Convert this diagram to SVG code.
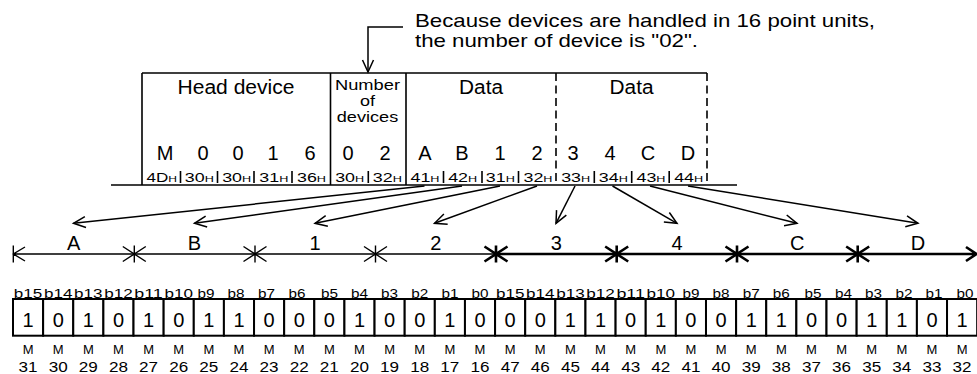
<svg xmlns="http://www.w3.org/2000/svg" width="977" height="374" viewBox="0 0 977 374">
<style>
.t{font-family:"Liberation Sans",Arial,sans-serif;fill:#000}
.ln{stroke:#000;fill:none;stroke-width:1.6}
.thin{stroke:#000;fill:none;stroke-width:1.4}
.thick{stroke:#000;fill:none;stroke-width:2.6}
.dash{stroke:#000;fill:none;stroke-width:1.6;stroke-dasharray:8 4.5}
.big{font-size:20px;text-anchor:middle}
.hx{font-size:12px;text-anchor:middle}
.bl{font-size:12px;text-anchor:middle}
.ml{font-size:13px;text-anchor:middle}
.mn{font-size:14px;text-anchor:middle}
.cell{fill:#fff;stroke:#000;stroke-width:2}
.arr{stroke:#000;fill:none;stroke-width:1.5;marker-end:url(#ah)}
</style>
<defs>
<marker id="ah" markerUnits="userSpaceOnUse" markerWidth="16" markerHeight="14" refX="13" refY="6" orient="auto" viewBox="0 0 16 12">
<path d="M1,0.5 L13,6 L1,11.5" fill="none" stroke="#000" stroke-width="1.5"/>
</marker>
</defs>
<rect width="977" height="374" fill="#fff"/>

<g id="note">
<text class="t" x="415" y="26.5" font-size="19" textLength="460" lengthAdjust="spacingAndGlyphs">Because devices are handled in 16 point units,</text>
<text class="t" x="415" y="46.5" font-size="19" textLength="283" lengthAdjust="spacingAndGlyphs">the number of device is "02".</text>
</g>

<g id="frame">
<path class="ln" d="M142,73 H707 M142,73 V185 M330.5,73 V185 M406,73 V185 M111,185 H737"/>
<path class="dash" d="M556,73 V185 M707,73 V185"/>
<path class="ln" stroke-width="1.3" d="M180.5,171 V183 M217.5,171 V183 M254,171 V183 M292,171 V183 M368.3,171 V183 M443.5,171 V183 M482,171 V183 M518.5,171 V183 M594.3,171 V183 M631.7,171 V183 M669.2,171 V183"/>
</g>

<g id="head-device">
<text class="t big" x="236" y="94" textLength="117" lengthAdjust="spacingAndGlyphs">Head device</text>
<text class="t big" x="165" y="159.5">M</text>
<text class="t big" x="203" y="159.5">0</text>
<text class="t big" x="238" y="159.5">0</text>
<text class="t big" x="273" y="159.5">1</text>
<text class="t big" x="310" y="159.5">6</text>
<text class="t hx" x="161.8" y="181.5" textLength="30.5" lengthAdjust="spacingAndGlyphs">4D<tspan font-size="8.5">H</tspan></text>
<text class="t hx" x="199.3" y="181.5" textLength="29" lengthAdjust="spacingAndGlyphs">30<tspan font-size="8.5">H</tspan></text>
<text class="t hx" x="236.7" y="181.5" textLength="29" lengthAdjust="spacingAndGlyphs">30<tspan font-size="8.5">H</tspan></text>
<text class="t hx" x="273.8" y="181.5" textLength="29" lengthAdjust="spacingAndGlyphs">31<tspan font-size="8.5">H</tspan></text>
<text class="t hx" x="311.5" y="181.5" textLength="29" lengthAdjust="spacingAndGlyphs">36<tspan font-size="8.5">H</tspan></text>
</g>

<g id="num-devices">
<text class="t" x="367.5" y="90" font-size="15" text-anchor="middle" textLength="65" lengthAdjust="spacingAndGlyphs">Number</text>
<text class="t" x="367.5" y="105.5" font-size="15" text-anchor="middle" textLength="15" lengthAdjust="spacingAndGlyphs">of</text>
<text class="t" x="367.5" y="121.5" font-size="15" text-anchor="middle" textLength="61.5" lengthAdjust="spacingAndGlyphs">devices</text>
<text class="t big" x="348" y="159.5">0</text>
<text class="t big" x="385" y="159.5">2</text>
<text class="t hx" x="349.7" y="181.5" textLength="29" lengthAdjust="spacingAndGlyphs">30<tspan font-size="8.5">H</tspan></text>
<text class="t hx" x="387.3" y="181.5" textLength="29" lengthAdjust="spacingAndGlyphs">32<tspan font-size="8.5">H</tspan></text>
</g>

<g id="data1">
<text class="t big" x="481" y="94" textLength="44" lengthAdjust="spacingAndGlyphs">Data</text>
<text class="t big" x="425" y="159.5">A</text>
<text class="t big" x="462" y="159.5">B</text>
<text class="t big" x="500" y="159.5">1</text>
<text class="t big" x="537" y="159.5">2</text>
<text class="t hx" x="425" y="181.5" textLength="29" lengthAdjust="spacingAndGlyphs">41<tspan font-size="8.5">H</tspan></text>
<text class="t hx" x="462.7" y="181.5" textLength="29" lengthAdjust="spacingAndGlyphs">42<tspan font-size="8.5">H</tspan></text>
<text class="t hx" x="500.3" y="181.5" textLength="29" lengthAdjust="spacingAndGlyphs">31<tspan font-size="8.5">H</tspan></text>
<text class="t hx" x="538" y="181.5" textLength="29" lengthAdjust="spacingAndGlyphs">32<tspan font-size="8.5">H</tspan></text>
</g>

<g id="data2">
<text class="t big" x="631.5" y="94" textLength="44" lengthAdjust="spacingAndGlyphs">Data</text>
<text class="t big" x="573" y="159.5">3</text>
<text class="t big" x="610" y="159.5">4</text>
<text class="t big" x="648" y="159.5">C</text>
<text class="t big" x="688" y="159.5">D</text>
<text class="t hx" x="575.7" y="181.5" textLength="29" lengthAdjust="spacingAndGlyphs">33<tspan font-size="8.5">H</tspan></text>
<text class="t hx" x="613.3" y="181.5" textLength="29" lengthAdjust="spacingAndGlyphs">34<tspan font-size="8.5">H</tspan></text>
<text class="t hx" x="651" y="181.5" textLength="29" lengthAdjust="spacingAndGlyphs">43<tspan font-size="8.5">H</tspan></text>
<text class="t hx" x="688.7" y="181.5" textLength="29" lengthAdjust="spacingAndGlyphs">44<tspan font-size="8.5">H</tspan></text>
</g>

<g id="connectors">
<path class="arr" d="M403,27 H368 V72"/>
<path class="arr" d="M424.5,186 L73.5,223.3"/>
<path class="arr" d="M462,186 L194.5,223.3"/>
<path class="arr" d="M500,186 L315,223.3"/>
<path class="arr" d="M537,186 L434.5,223.3"/>
<path class="arr" d="M575,186 L556,223.3"/>
<path class="arr" d="M612.5,186 L677,223.3"/>
<path class="arr" d="M650,186 L797,223.3"/>
<path class="arr" d="M688,186 L918,223.3"/>
</g>

<g id="ranges">
<path class="thin" d="M13.3,254 H496 M13.3,245.5 V262.5 M25,247 L13.3,254 L25,261"/>
<path class="thin" d="M122.8,246.5 L145.8,261.5 M122.8,261.5 L145.8,246.5 M134.3,245.5 V262.5"/>
<path class="thin" d="M243.5,246.5 L266.5,261.5 M243.5,261.5 L266.5,246.5 M255,245.5 V262.5"/>
<path class="thin" d="M364,246.5 L387,261.5 M364,261.5 L387,246.5 M375.5,245.5 V262.5"/>
<path class="thick" d="M496,254 H977 M966,247 L976.5,254 L966,261"/>
<path class="thick" stroke-width="2" d="M484.5,246.5 L507.5,261.5 M484.5,261.5 L507.5,246.5 M496,245.5 V262.5"/>
<path class="thick" stroke-width="2.2" d="M605.2,246.5 L628.2,261.5 M605.2,261.5 L628.2,246.5 M616.7,245.5 V262.5"/>
<path class="thick" stroke-width="2.2" d="M725.5,246.5 L748.5,261.5 M725.5,261.5 L748.5,246.5 M737,245.5 V262.5"/>
<path class="thick" stroke-width="2.2" d="M846.2,246.5 L869.2,261.5 M846.2,261.5 L869.2,246.5 M857.7,245.5 V262.5"/>
<text class="t big" x="73.7" y="250">A</text>
<text class="t big" x="194.3" y="250">B</text>
<text class="t big" x="315" y="250">1</text>
<text class="t big" x="435.7" y="250">2</text>
<text class="t big" x="556.3" y="250">3</text>
<text class="t big" x="677" y="250">4</text>
<text class="t big" x="797.3" y="250">C</text>
<text class="t big" x="918" y="250">D</text>
</g>

<g id="word-low">
<rect class="cell" x="13" y="299" width="30.13" height="36.7"/>
<rect class="cell" x="43.13" y="299" width="30.13" height="36.7"/>
<rect class="cell" x="73.26" y="299" width="30.13" height="36.7"/>
<rect class="cell" x="103.39" y="299" width="30.13" height="36.7"/>
<rect class="cell" x="133.52" y="299" width="30.13" height="36.7"/>
<rect class="cell" x="163.65" y="299" width="30.13" height="36.7"/>
<rect class="cell" x="193.78" y="299" width="30.13" height="36.7"/>
<rect class="cell" x="223.91" y="299" width="30.13" height="36.7"/>
<rect class="cell" x="254.04" y="299" width="30.13" height="36.7"/>
<rect class="cell" x="284.17" y="299" width="30.13" height="36.7"/>
<rect class="cell" x="314.3" y="299" width="30.13" height="36.7"/>
<rect class="cell" x="344.43" y="299" width="30.13" height="36.7"/>
<rect class="cell" x="374.56" y="299" width="30.13" height="36.7"/>
<rect class="cell" x="404.69" y="299" width="30.13" height="36.7"/>
<rect class="cell" x="434.82" y="299" width="30.13" height="36.7"/>
<rect class="cell" x="464.95" y="299" width="30.13" height="36.7"/>
<text class="t bl" x="28.07" y="298" textLength="28.5" lengthAdjust="spacingAndGlyphs">b15</text>
<text class="t bl" x="58.2" y="298" textLength="28.5" lengthAdjust="spacingAndGlyphs">b14</text>
<text class="t bl" x="88.33" y="298" textLength="28.5" lengthAdjust="spacingAndGlyphs">b13</text>
<text class="t bl" x="118.46" y="298" textLength="28.5" lengthAdjust="spacingAndGlyphs">b12</text>
<text class="t bl" x="148.59" y="298" textLength="28.5" lengthAdjust="spacingAndGlyphs">b11</text>
<text class="t bl" x="178.72" y="298" textLength="28.5" lengthAdjust="spacingAndGlyphs">b10</text>
<text class="t bl" x="206" y="298" textLength="17" lengthAdjust="spacingAndGlyphs">b9</text>
<text class="t bl" x="236" y="298" textLength="17" lengthAdjust="spacingAndGlyphs">b8</text>
<text class="t bl" x="266.5" y="298" textLength="17" lengthAdjust="spacingAndGlyphs">b7</text>
<text class="t bl" x="297" y="298" textLength="17" lengthAdjust="spacingAndGlyphs">b6</text>
<text class="t bl" x="329.4" y="298" textLength="17" lengthAdjust="spacingAndGlyphs">b5</text>
<text class="t bl" x="359.5" y="298" textLength="17" lengthAdjust="spacingAndGlyphs">b4</text>
<text class="t bl" x="389.6" y="298" textLength="17" lengthAdjust="spacingAndGlyphs">b3</text>
<text class="t bl" x="419.8" y="298" textLength="17" lengthAdjust="spacingAndGlyphs">b2</text>
<text class="t bl" x="449.9" y="298" textLength="17" lengthAdjust="spacingAndGlyphs">b1</text>
<text class="t bl" x="480" y="298" textLength="17" lengthAdjust="spacingAndGlyphs">b0</text>
<text class="t big" x="28.07" y="326.5">1</text>
<text class="t big" x="58.2" y="326.5">0</text>
<text class="t big" x="88.33" y="326.5">1</text>
<text class="t big" x="118.46" y="326.5">0</text>
<text class="t big" x="148.59" y="326.5">1</text>
<text class="t big" x="178.72" y="326.5">0</text>
<text class="t big" x="208.85" y="326.5">1</text>
<text class="t big" x="238.98" y="326.5">1</text>
<text class="t big" x="269.11" y="326.5">0</text>
<text class="t big" x="299.24" y="326.5">0</text>
<text class="t big" x="329.37" y="326.5">0</text>
<text class="t big" x="359.5" y="326.5">1</text>
<text class="t big" x="389.63" y="326.5">0</text>
<text class="t big" x="419.76" y="326.5">0</text>
<text class="t big" x="449.89" y="326.5">1</text>
<text class="t big" x="480.02" y="326.5">0</text>
<text class="t ml" x="28.07" y="354">M</text>
<text class="t ml" x="58.2" y="354">M</text>
<text class="t ml" x="88.33" y="354">M</text>
<text class="t ml" x="118.46" y="354">M</text>
<text class="t ml" x="148.59" y="354">M</text>
<text class="t ml" x="178.72" y="354">M</text>
<text class="t ml" x="208.85" y="354">M</text>
<text class="t ml" x="238.98" y="354">M</text>
<text class="t ml" x="269.11" y="354">M</text>
<text class="t ml" x="299.24" y="354">M</text>
<text class="t ml" x="329.37" y="354">M</text>
<text class="t ml" x="359.5" y="354">M</text>
<text class="t ml" x="389.63" y="354">M</text>
<text class="t ml" x="419.76" y="354">M</text>
<text class="t ml" x="449.89" y="354">M</text>
<text class="t ml" x="480.02" y="354">M</text>
<text class="t mn" x="28.07" y="371.5" textLength="19" lengthAdjust="spacingAndGlyphs">31</text>
<text class="t mn" x="58.2" y="371.5" textLength="19" lengthAdjust="spacingAndGlyphs">30</text>
<text class="t mn" x="88.33" y="371.5" textLength="19" lengthAdjust="spacingAndGlyphs">29</text>
<text class="t mn" x="118.46" y="371.5" textLength="19" lengthAdjust="spacingAndGlyphs">28</text>
<text class="t mn" x="148.59" y="371.5" textLength="19" lengthAdjust="spacingAndGlyphs">27</text>
<text class="t mn" x="178.72" y="371.5" textLength="19" lengthAdjust="spacingAndGlyphs">26</text>
<text class="t mn" x="208.85" y="371.5" textLength="19" lengthAdjust="spacingAndGlyphs">25</text>
<text class="t mn" x="238.98" y="371.5" textLength="19" lengthAdjust="spacingAndGlyphs">24</text>
<text class="t mn" x="269.11" y="371.5" textLength="19" lengthAdjust="spacingAndGlyphs">23</text>
<text class="t mn" x="299.24" y="371.5" textLength="19" lengthAdjust="spacingAndGlyphs">22</text>
<text class="t mn" x="329.37" y="371.5" textLength="19" lengthAdjust="spacingAndGlyphs">21</text>
<text class="t mn" x="359.5" y="371.5" textLength="19" lengthAdjust="spacingAndGlyphs">20</text>
<text class="t mn" x="389.63" y="371.5" textLength="19" lengthAdjust="spacingAndGlyphs">19</text>
<text class="t mn" x="419.76" y="371.5" textLength="19" lengthAdjust="spacingAndGlyphs">18</text>
<text class="t mn" x="449.89" y="371.5" textLength="19" lengthAdjust="spacingAndGlyphs">17</text>
<text class="t mn" x="480.02" y="371.5" textLength="19" lengthAdjust="spacingAndGlyphs">16</text>
</g>

<g id="word-high">
<rect class="cell" x="495.08" y="299" width="30.13" height="36.7"/>
<rect class="cell" x="525.21" y="299" width="30.13" height="36.7"/>
<rect class="cell" x="555.34" y="299" width="30.13" height="36.7"/>
<rect class="cell" x="585.47" y="299" width="30.13" height="36.7"/>
<rect class="cell" x="615.6" y="299" width="30.13" height="36.7"/>
<rect class="cell" x="645.73" y="299" width="30.13" height="36.7"/>
<rect class="cell" x="675.86" y="299" width="30.13" height="36.7"/>
<rect class="cell" x="705.99" y="299" width="30.13" height="36.7"/>
<rect class="cell" x="736.12" y="299" width="30.13" height="36.7"/>
<rect class="cell" x="766.25" y="299" width="30.13" height="36.7"/>
<rect class="cell" x="796.38" y="299" width="30.13" height="36.7"/>
<rect class="cell" x="826.51" y="299" width="30.13" height="36.7"/>
<rect class="cell" x="856.64" y="299" width="30.13" height="36.7"/>
<rect class="cell" x="886.77" y="299" width="30.13" height="36.7"/>
<rect class="cell" x="916.9" y="299" width="30.13" height="36.7"/>
<rect class="cell" x="947.03" y="299" width="30.13" height="36.7"/>
<text class="t bl" x="510.15" y="298" textLength="28.5" lengthAdjust="spacingAndGlyphs">b15</text>
<text class="t bl" x="540.28" y="298" textLength="28.5" lengthAdjust="spacingAndGlyphs">b14</text>
<text class="t bl" x="570.41" y="298" textLength="28.5" lengthAdjust="spacingAndGlyphs">b13</text>
<text class="t bl" x="600.54" y="298" textLength="28.5" lengthAdjust="spacingAndGlyphs">b12</text>
<text class="t bl" x="630.67" y="298" textLength="28.5" lengthAdjust="spacingAndGlyphs">b11</text>
<text class="t bl" x="660.8" y="298" textLength="28.5" lengthAdjust="spacingAndGlyphs">b10</text>
<text class="t bl" x="690.9" y="298" textLength="17" lengthAdjust="spacingAndGlyphs">b9</text>
<text class="t bl" x="721" y="298" textLength="17" lengthAdjust="spacingAndGlyphs">b8</text>
<text class="t bl" x="751.2" y="298" textLength="17" lengthAdjust="spacingAndGlyphs">b7</text>
<text class="t bl" x="781.3" y="298" textLength="17" lengthAdjust="spacingAndGlyphs">b6</text>
<text class="t bl" x="813" y="298" textLength="17" lengthAdjust="spacingAndGlyphs">b5</text>
<text class="t bl" x="843.5" y="298" textLength="17" lengthAdjust="spacingAndGlyphs">b4</text>
<text class="t bl" x="873.5" y="298" textLength="17" lengthAdjust="spacingAndGlyphs">b3</text>
<text class="t bl" x="904" y="298" textLength="17" lengthAdjust="spacingAndGlyphs">b2</text>
<text class="t bl" x="934" y="298" textLength="17" lengthAdjust="spacingAndGlyphs">b1</text>
<text class="t bl" x="965" y="298" textLength="17" lengthAdjust="spacingAndGlyphs">b0</text>
<text class="t big" x="510.15" y="326.5">0</text>
<text class="t big" x="540.28" y="326.5">0</text>
<text class="t big" x="570.41" y="326.5">1</text>
<text class="t big" x="600.54" y="326.5">1</text>
<text class="t big" x="630.67" y="326.5">0</text>
<text class="t big" x="660.8" y="326.5">1</text>
<text class="t big" x="690.93" y="326.5">0</text>
<text class="t big" x="721.06" y="326.5">0</text>
<text class="t big" x="751.19" y="326.5">1</text>
<text class="t big" x="781.32" y="326.5">1</text>
<text class="t big" x="811.45" y="326.5">0</text>
<text class="t big" x="841.58" y="326.5">0</text>
<text class="t big" x="871.71" y="326.5">1</text>
<text class="t big" x="901.84" y="326.5">1</text>
<text class="t big" x="931.97" y="326.5">0</text>
<text class="t big" x="962.1" y="326.5">1</text>
<text class="t ml" x="510.15" y="354">M</text>
<text class="t ml" x="540.28" y="354">M</text>
<text class="t ml" x="570.41" y="354">M</text>
<text class="t ml" x="600.54" y="354">M</text>
<text class="t ml" x="630.67" y="354">M</text>
<text class="t ml" x="660.8" y="354">M</text>
<text class="t ml" x="690.93" y="354">M</text>
<text class="t ml" x="721.06" y="354">M</text>
<text class="t ml" x="751.19" y="354">M</text>
<text class="t ml" x="781.32" y="354">M</text>
<text class="t ml" x="811.45" y="354">M</text>
<text class="t ml" x="841.58" y="354">M</text>
<text class="t ml" x="871.71" y="354">M</text>
<text class="t ml" x="901.84" y="354">M</text>
<text class="t ml" x="931.97" y="354">M</text>
<text class="t ml" x="962.1" y="354">M</text>
<text class="t mn" x="510.15" y="371.5" textLength="19" lengthAdjust="spacingAndGlyphs">47</text>
<text class="t mn" x="540.28" y="371.5" textLength="19" lengthAdjust="spacingAndGlyphs">46</text>
<text class="t mn" x="570.41" y="371.5" textLength="19" lengthAdjust="spacingAndGlyphs">45</text>
<text class="t mn" x="600.54" y="371.5" textLength="19" lengthAdjust="spacingAndGlyphs">44</text>
<text class="t mn" x="630.67" y="371.5" textLength="19" lengthAdjust="spacingAndGlyphs">43</text>
<text class="t mn" x="660.8" y="371.5" textLength="19" lengthAdjust="spacingAndGlyphs">42</text>
<text class="t mn" x="690.93" y="371.5" textLength="19" lengthAdjust="spacingAndGlyphs">41</text>
<text class="t mn" x="721.06" y="371.5" textLength="19" lengthAdjust="spacingAndGlyphs">40</text>
<text class="t mn" x="751.19" y="371.5" textLength="19" lengthAdjust="spacingAndGlyphs">39</text>
<text class="t mn" x="781.32" y="371.5" textLength="19" lengthAdjust="spacingAndGlyphs">38</text>
<text class="t mn" x="811.45" y="371.5" textLength="19" lengthAdjust="spacingAndGlyphs">37</text>
<text class="t mn" x="841.58" y="371.5" textLength="19" lengthAdjust="spacingAndGlyphs">36</text>
<text class="t mn" x="871.71" y="371.5" textLength="19" lengthAdjust="spacingAndGlyphs">35</text>
<text class="t mn" x="901.84" y="371.5" textLength="19" lengthAdjust="spacingAndGlyphs">34</text>
<text class="t mn" x="931.97" y="371.5" textLength="19" lengthAdjust="spacingAndGlyphs">33</text>
<text class="t mn" x="962.1" y="371.5" textLength="19" lengthAdjust="spacingAndGlyphs">32</text>
</g>
</svg>
